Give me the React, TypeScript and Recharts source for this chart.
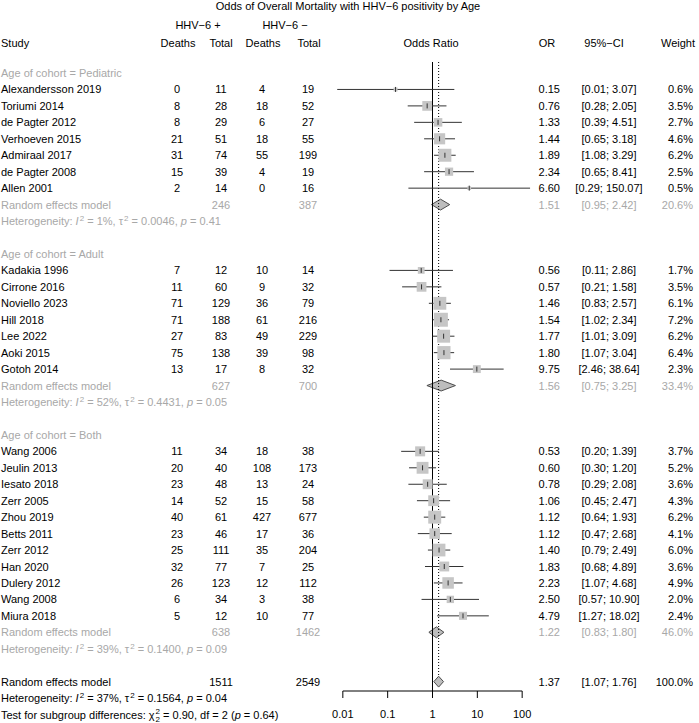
import React from 'react';
import { ComposedChart, Scatter, ErrorBar, Area, XAxis, YAxis, ReferenceLine } from 'recharts';

const FONT = '"Liberation Sans", Arial, Helvetica, sans-serif';
const GREY = '#a8a8a8';
const W = 699;
const H = 723;

// row geometry (text rows and plot rows share it)
const ROW0 = 73;
const ROW_H = 16.45;
const PLOT_TOP = 62;
const PLOT_BOTTOM = 691;
const rowY = (r: number) => ROW0 + ROW_H * r;
const Y_TOP = (PLOT_TOP - ROW0) / ROW_H;
const Y_AXIS = (PLOT_BOTTOM - ROW0) / ROW_H;

// [study, deaths HHV-6+, total HHV-6+, deaths HHV-6-, total HHV-6-, OR, lower, upper, weight %]
type StudyRow = [string, number, number, number, number, number, number, number, number];

const pediatricStudies: StudyRow[] = [
  ['Alexandersson 2019', 0, 11, 4, 19, 0.15, 0.0075, 3.07, 0.6],
  ['Toriumi 2014', 8, 28, 18, 52, 0.76, 0.28, 2.05, 3.5],
  ['de Pagter 2012', 8, 29, 6, 27, 1.33, 0.39, 4.51, 2.7],
  ['Verhoeven 2015', 21, 51, 18, 55, 1.44, 0.65, 3.18, 4.6],
  ['Admiraal 2017', 31, 74, 55, 199, 1.89, 1.08, 3.29, 6.2],
  ['de Pagter 2008', 15, 39, 4, 19, 2.34, 0.65, 8.41, 2.5],
  ['Allen 2001', 2, 14, 0, 16, 6.6, 0.29, 150.07, 0.5],
];

const adultStudies: StudyRow[] = [
  ['Kadakia 1996', 7, 12, 10, 14, 0.56, 0.11, 2.86, 1.7],
  ['Cirrone 2016', 11, 60, 9, 32, 0.57, 0.21, 1.58, 3.5],
  ['Noviello 2023', 71, 129, 36, 79, 1.46, 0.83, 2.57, 6.1],
  ['Hill 2018', 71, 188, 61, 216, 1.54, 1.02, 2.34, 7.2],
  ['Lee 2022', 27, 83, 49, 229, 1.77, 1.01, 3.09, 6.2],
  ['Aoki 2015', 75, 138, 39, 98, 1.8, 1.07, 3.04, 6.4],
  ['Gotoh 2014', 13, 17, 8, 32, 9.75, 2.46, 38.64, 2.3],
];

const bothStudies: StudyRow[] = [
  ['Wang 2006', 11, 34, 18, 38, 0.53, 0.2, 1.39, 3.7],
  ['Jeulin 2013', 20, 40, 108, 173, 0.6, 0.3, 1.2, 5.2],
  ['Iesato 2018', 23, 48, 13, 24, 0.78, 0.29, 2.08, 3.6],
  ['Zerr 2005', 14, 52, 15, 58, 1.06, 0.45, 2.47, 4.3],
  ['Zhou 2019', 40, 61, 427, 677, 1.12, 0.64, 1.93, 6.2],
  ['Betts 2011', 23, 46, 17, 36, 1.12, 0.47, 2.68, 4.1],
  ['Zerr 2012', 25, 111, 35, 204, 1.4, 0.79, 2.49, 6.0],
  ['Han 2020', 32, 77, 7, 25, 1.83, 0.68, 4.89, 3.6],
  ['Dulery 2012', 26, 123, 12, 112, 2.23, 1.07, 4.68, 4.9],
  ['Wang 2008', 6, 34, 3, 38, 2.5, 0.57, 10.9, 2.0],
  ['Miura 2018', 5, 12, 10, 77, 4.79, 1.27, 18.02, 2.4],
];

const groupNames = ['Pediatric', 'Adult', 'Both'];
const groupStudies = [pediatricStudies, adultStudies, bothStudies];
const groupTotalsPos = [246, 627, 638];
const groupTotalsNeg = [387, 700, 1462];
const groupOR = [1.51, 1.56, 1.22];
const groupLower = [0.95, 0.75, 0.83];
const groupUpper = [2.42, 3.25, 1.8];
const groupWeight = [20.6, 33.4, 46.0];
const groupI2 = [1, 52, 39];
const groupTau2 = [0.0046, 0.4431, 0.14];
const groupP = [0.41, 0.05, 0.09];

const overallTotals = [1511, 2549];
const overallEstimate = [1.37, 1.07, 1.76]; // OR, lower, upper
const overallHet = [37, 0.1564, 0.04]; // I2, tau2, p
const subgroupTest = [0.9, 2, 0.64]; // chi2, df, p

const xTicks = [0.01, 0.1, 1, 10, 100];

const COLS = { study: 1, dPos: 177, nPos: 221, dNeg: 262, nNeg: 308, or: 560, ci: 609, weight: 693 };

type Align = 'left' | 'center' | 'right';

function T({ x, y, align = 'left', color = '#000', children }: { x: number; y: number; align?: Align; color?: string; children: React.ReactNode }) {
  const shift = align === 'left' ? '0' : align === 'center' ? '-50%' : '-100%';
  return (
    <div
      style={{
        position: 'absolute',
        left: x,
        top: y - 8,
        height: 16,
        lineHeight: '16px',
        transform: `translateX(${shift})`,
        whiteSpace: 'nowrap',
        color,
      }}
    >
      {children}
    </div>
  );
}

const Sup = ({ children }: { children: React.ReactNode }) => (
  <span style={{ fontSize: 8, position: 'relative', top: -4, marginLeft: 1 }}>{children}</span>
);

function Heterogeneity({ i2, tau2, p }: { i2: number; tau2: number; p: number }) {
  return (
    <>
      Heterogeneity: <i>I</i>
      <Sup>2</Sup> = {i2}%, τ<Sup>2</Sup> = {tau2.toFixed(4)}, <i>p</i> = {p.toFixed(2)}
    </>
  );
}

const ciText = (lo: number, hi: number) => `[${lo.toFixed(2)}; ${hi.toFixed(2)}]`;

function SquareShape(props: any) {
  const { cx, cy, payload } = props;
  const s = 5.2 * Math.sqrt(payload.w);
  return <rect x={cx - s / 2} y={cy - s / 2} width={s} height={s} fill="#c6c6c6" />;
}

function TickShape(props: any) {
  const { cx, cy } = props;
  return <line x1={cx} x2={cx} y1={cy - 2.5} y2={cy + 2.5} stroke="#333" strokeWidth={1} />;
}

const DIAMOND_HALF = 0.33;

function diamondData(row: number, est: number, lo: number, hi: number) {
  return [
    { row: row - DIAMOND_HALF, range: [est, est] },
    { row, range: [lo, hi] },
    { row: row + DIAMOND_HALF, range: [est, est] },
  ];
}

export default function App() {
  const texts: React.ReactNode[] = [];
  const points: { row: number; or: number; w: number; err: number[] }[] = [];
  const diamonds: { row: number; range: number[] }[][] = [];

  let r = 0;
  groupNames.forEach((name, g) => {
    texts.push(
      <T key={`h${g}`} x={COLS.study} y={rowY(r)} color={GREY}>
        Age of cohort = {name}
      </T>
    );
    r += 1;
    groupStudies[g].forEach(([study, dp, np, dn, nn, or, lo, hi, w]) => {
      const y = rowY(r);
      texts.push(
        <React.Fragment key={study}>
          <T x={COLS.study} y={y}>{study}</T>
          <T x={COLS.dPos} y={y} align="center">{dp}</T>
          <T x={COLS.nPos} y={y} align="center">{np}</T>
          <T x={COLS.dNeg} y={y} align="center">{dn}</T>
          <T x={COLS.nNeg} y={y} align="center">{nn}</T>
          <T x={COLS.or} y={y} align="right">{or.toFixed(2)}</T>
          <T x={COLS.ci} y={y} align="center">{ciText(lo, hi)}</T>
          <T x={COLS.weight} y={y} align="right">{w.toFixed(1)}%</T>
        </React.Fragment>
      );
      points.push({ row: r, or, w, err: [or - lo, hi - or] });
      r += 1;
    });
    const y = rowY(r);
    texts.push(
      <React.Fragment key={`re${g}`}>
        <T x={COLS.study} y={y} color={GREY}>Random effects model</T>
        <T x={COLS.nPos} y={y} align="center" color={GREY}>{groupTotalsPos[g]}</T>
        <T x={COLS.nNeg} y={y} align="center" color={GREY}>{groupTotalsNeg[g]}</T>
        <T x={COLS.or} y={y} align="right" color={GREY}>{groupOR[g].toFixed(2)}</T>
        <T x={COLS.ci} y={y} align="center" color={GREY}>{ciText(groupLower[g], groupUpper[g])}</T>
        <T x={COLS.weight} y={y} align="right" color={GREY}>{groupWeight[g].toFixed(1)}%</T>
      </React.Fragment>
    );
    diamonds.push(diamondData(r, groupOR[g], groupLower[g], groupUpper[g]));
    r += 1;
    texts.push(
      <T key={`het${g}`} x={COLS.study} y={rowY(r)} color={GREY}>
        <Heterogeneity i2={groupI2[g]} tau2={groupTau2[g]} p={groupP[g]} />
      </T>
    );
    r += 2;
  });

  const overallRow = r;
  const [oOR, oLo, oHi] = overallEstimate;
  diamonds.push(diamondData(overallRow, oOR, oLo, oHi));

  return (
    <div style={{ position: 'absolute', left: 0, top: 0, width: W, height: H, fontFamily: FONT, fontSize: 11, background: '#fff' }}>
      <ComposedChart
        width={W}
        height={H}
        layout="vertical"
        margin={{ top: PLOT_TOP, right: 132, bottom: 2, left: 298 }}
      >
        <XAxis
          type="number"
          dataKey="or"
          scale="log"
          domain={[0.001, 1000]}
          allowDataOverflow
          ticks={xTicks}
          interval={0}
          height={30}
          axisLine={false}
          tickLine={{ stroke: '#000' }}
          tickSize={7}
          tickMargin={12}
          tick={{ fill: '#000', fontSize: 11, fontFamily: FONT }}
          tickFormatter={(v: number) => String(v)}
        />
        <YAxis type="number" dataKey="row" domain={[Y_TOP, Y_AXIS]} hide allowDataOverflow />
        <ReferenceLine
          segment={[{ x: 0.01, y: Y_AXIS }, { x: 100, y: Y_AXIS }]}
          stroke="#000"
          strokeWidth={1}
          ifOverflow="visible"
        />
        <ReferenceLine x={1} stroke="#000" strokeWidth={1} />
        <ReferenceLine
          segment={[{ x: oOR, y: Y_TOP }, { x: oOR, y: overallRow - DIAMOND_HALF }]}
          stroke="#000"
          strokeWidth={1}
          strokeDasharray="1 2"
        />
        <Scatter data={points} shape={SquareShape} isAnimationActive={false} />
        <Scatter data={points} shape={TickShape} isAnimationActive={false}>
          <ErrorBar dataKey="err" direction="x" width={0} stroke="#333" strokeWidth={1} />
        </Scatter>
        {diamonds.map((d, i) => (
          <Area
            key={i}
            data={d}
            dataKey="range"
            type="linear"
            fill="#bdbdbd"
            fillOpacity={1}
            stroke="#4d4d4d"
            strokeWidth={1}
            dot={false}
            activeDot={false}
            isAnimationActive={false}
          />
        ))}
      </ComposedChart>

      <div style={{ position: 'absolute', left: 0, top: 0, width: W, height: H }}>
        <T x={348} y={6} align="center">Odds of Overall Mortality with HHV−6 positivity by Age</T>
        <T x={198} y={25} align="center">HHV−6 +</T>
        <T x={285} y={25} align="center">HHV−6 −</T>
        <T x={COLS.study} y={43}>Study</T>
        <T x={178} y={43} align="center">Deaths</T>
        <T x={221} y={43} align="center">Total</T>
        <T x={263} y={43} align="center">Deaths</T>
        <T x={309} y={43} align="center">Total</T>
        <T x={431} y={43} align="center">Odds Ratio</T>
        <T x={547} y={43} align="center">OR</T>
        <T x={604} y={43} align="center">95%−CI</T>
        <T x={678} y={43} align="center">Weight</T>

        {texts}

        <T x={COLS.study} y={rowY(overallRow)}>Random effects model</T>
        <T x={COLS.nPos} y={rowY(overallRow)} align="center">{overallTotals[0]}</T>
        <T x={COLS.nNeg} y={rowY(overallRow)} align="center">{overallTotals[1]}</T>
        <T x={COLS.or} y={rowY(overallRow)} align="right">{oOR.toFixed(2)}</T>
        <T x={COLS.ci} y={rowY(overallRow)} align="center">{ciText(oLo, oHi)}</T>
        <T x={COLS.weight} y={rowY(overallRow)} align="right">100.0%</T>
        <T x={COLS.study} y={rowY(overallRow + 1)}>
          <Heterogeneity i2={overallHet[0]} tau2={overallHet[1]} p={overallHet[2]} />
        </T>
        <T x={COLS.study} y={rowY(overallRow + 2)}>
          Test for subgroup differences: χ
          <span
            style={{
              display: 'inline-flex',
              flexDirection: 'column',
              fontSize: 8,
              lineHeight: '8px',
              verticalAlign: 'middle',
              marginLeft: 1,
            }}
          >
            <span>2</span>
            <span>2</span>
          </span>{' '}
          = {subgroupTest[0].toFixed(2)}, df = {subgroupTest[1]} (<i>p</i> = {subgroupTest[2].toFixed(2)})
        </T>
      </div>
    </div>
  );
}
